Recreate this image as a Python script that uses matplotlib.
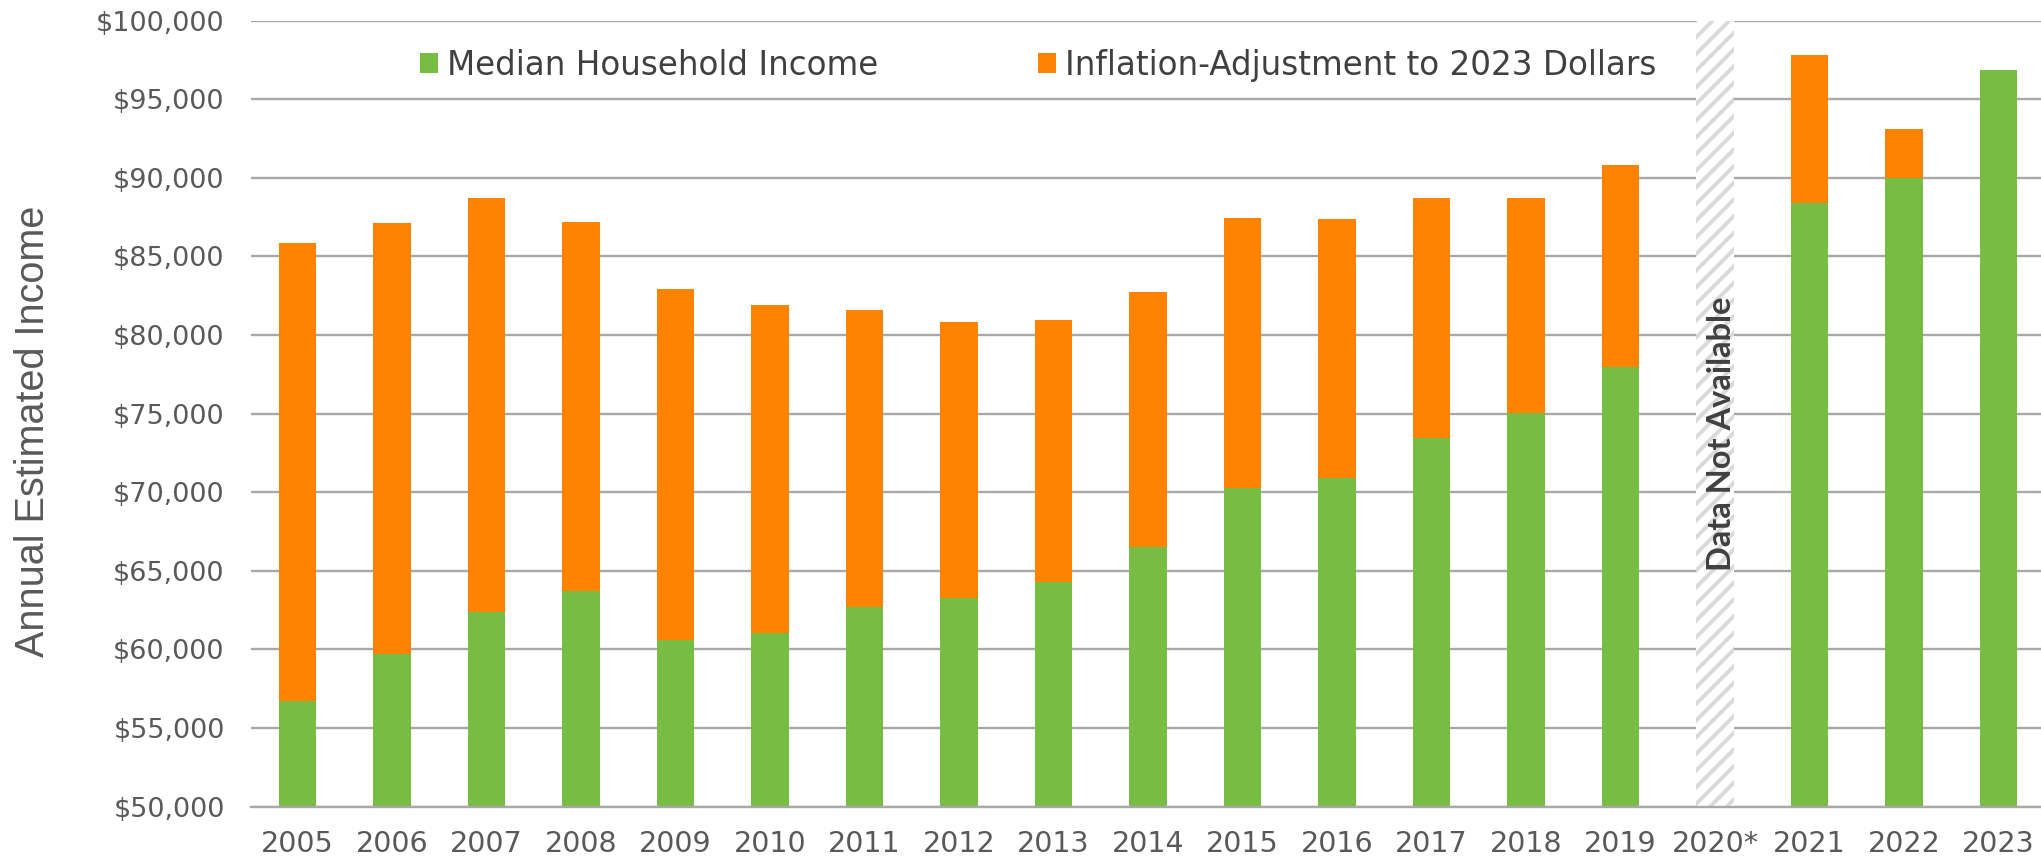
import numpy as np
import matplotlib.pyplot as plt
from matplotlib.patches import Patch

# values (2020 not available)
years = ['2005', '2006', '2007', '2008', '2009', '2010', '2011', '2012', '2013', '2014',
         '2015', '2016', '2017', '2018', '2019', '2020*', '2021', '2022', '2023']
median_income = [56730, 59690, 62400, 63730, 60600, 61040, 62680, 63290, 64270, 66500,
                 70290, 70910, 73430, 75020, 77970, np.nan, 88430, 89960, 96870]
adjusted_2023 = [85860, 87115, 88740, 87220, 82900, 81915, 81580, 80850, 80940, 82720,
                 87470, 87370, 88730, 88730, 90810, np.nan, 97840, 93100, 96870]
missing_year = '2020*'
y_ticks = list(range(50000, 100001, 5000))

green = '#77bc43'
orange = '#ff8300'
grid_gray = '#a8a8a8'
text_gray = '#595959'

plt.rcParams['hatch.linewidth'] = 2.8
plt.rcParams['hatch.color'] = '#d9d9d9'

median_income = np.array(median_income, dtype=float)
adjusted_2023 = np.array(adjusted_2023, dtype=float)
inflation = adjusted_2023 - median_income
x = np.arange(len(years))
ok = ~np.isnan(median_income)

fig = plt.figure(figsize=(20.41, 8.59), dpi=100)
ax = fig.add_axes([0.123, 0.0611, 0.877, 0.9148])

ax.bar(x[ok], median_income[ok], width=0.4, color=green, zorder=2)
ax.bar(x[ok], inflation[ok], bottom=median_income[ok], width=0.4, color=orange, zorder=2)

# hatched "no data" column
i_na = years.index(missing_year)
ax.bar(x[i_na], 50000, bottom=50000, width=0.4, color='white', hatch='//',
       edgecolor='#d9d9d9', linewidth=0, zorder=2)
ax.text(x[i_na] + 0.07, 73700, 'Data Not Available', rotation=90, ha='center', va='center',
        fontsize=23.5, fontweight='bold', color='#404040', family=['Lato', 'DejaVu Sans'], zorder=3)

ax.set_ylim(50000, 100000)
ax.set_xlim(-0.492, 18.45)
ax.set_yticks(y_ticks)
ax.set_yticklabels(['${:,.0f}'.format(v) for v in y_ticks])
ax.set_xticks(x)
ax.set_xticklabels(years)
ax.tick_params(axis='y', length=0, pad=19, labelsize=19.5, labelcolor=text_gray)
ax.tick_params(axis='x', length=0, pad=17, labelsize=20.5, labelcolor=text_gray)

ax.set_axisbelow(True)
ax.grid(axis='y', color=grid_gray, linewidth=1.7)
for s in ['top', 'right', 'left']:
    ax.spines[s].set_visible(False)
ax.spines['bottom'].set_color(grid_gray)
ax.spines['bottom'].set_linewidth(1.7)
ax.spines['bottom'].set_zorder(3)

ax.set_ylabel('Annual Estimated Income', fontsize=28.5, color=text_gray,
              family=['Liberation Sans', 'DejaVu Sans'])
ax.yaxis.set_label_coords(-0.111, 0.477)

handles = [Patch(facecolor=green, label='Median Household Income'),
           Patch(facecolor=orange, label='Inflation-Adjustment to 2023 Dollars')]
ax.legend(handles=handles, ncol=2, loc='center left', bbox_to_anchor=(0.0944, 0.9436),
          frameon=False, fontsize=23.5, labelcolor='#404040', borderpad=0, borderaxespad=0,
          handlelength=0.55, handleheight=0.6, handletextpad=0.28, columnspacing=4.9)

fig.savefig('out.png', dpi=100)
